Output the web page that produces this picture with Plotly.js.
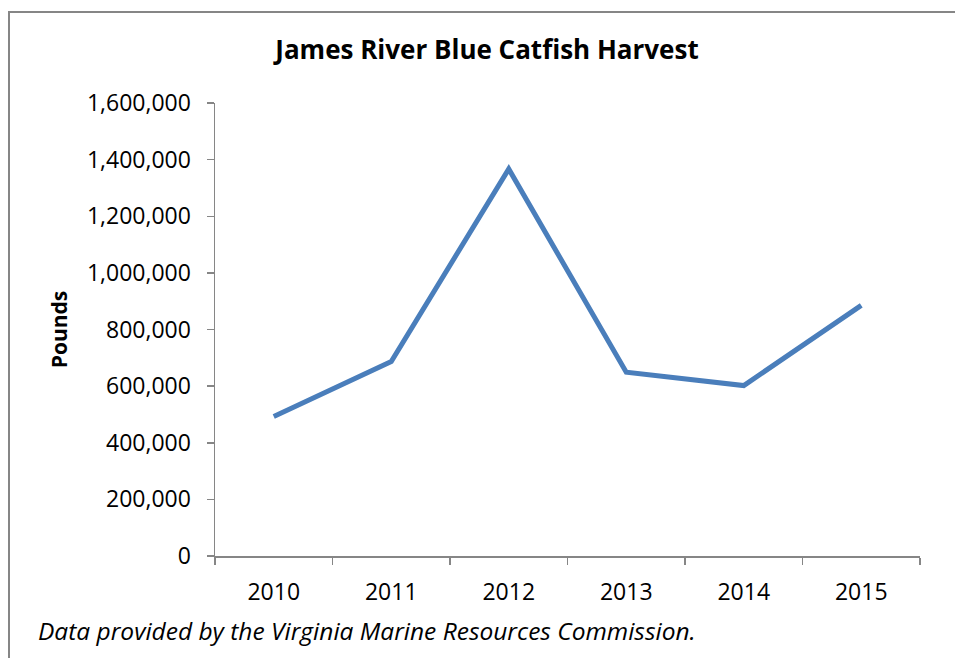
<!DOCTYPE html>
<html>
<head>
<meta charset="utf-8">
<script src="https://cdn.plot.ly/plotly-3.0.1.min.js"></script>
<style>
html,body{margin:0;padding:0;background:#fff;}
#chart{width:955px;height:658px;}
</style>
</head>
<body>
<div id="chart"></div>
<script>
const years = ["2010", "2011", "2012", "2013", "2014", "2015"];
const pounds = [493000, 687000, 1367000, 649000, 602000, 885000];
const yTicks = [0, 200000, 400000, 600000, 800000, 1000000, 1200000, 1400000, 1600000];

const FONT = "Open Sans, Liberation Sans, sans-serif";
const L = 215, R = 35, T = 103, B = 102;
const W = 955 - L - R, H = 658 - T - B;
const px = x => (x - L) / W;
const py = y => (658 - B - y) / H;

const trace = {
  x: years,
  y: pounds,
  type: "scatter",
  mode: "lines",
  line: {color: "#4a7ebb", width: 5},
  hoverinfo: "x+y"
};

const layout = {
  width: 955,
  height: 658,
  margin: {l: L, r: R, t: T, b: B},
  paper_bgcolor: "#ffffff",
  plot_bgcolor: "#ffffff",
  showlegend: false,
  font: {family: FONT, color: "#000000", size: 24},
  title: {
    text: "<b>James River Blue Catfish Harvest</b>",
    font: {family: FONT, size: 26, color: "#000000"},
    x: px(487), xref: "paper", xanchor: "center",
    y: 1 - 50 / 658, yref: "container", yanchor: "middle"
  },
  xaxis: {
    type: "category",
    range: [-0.5, 5.5],
    showline: true,
    linecolor: "#868686",
    linewidth: 1.5,
    showgrid: false,
    zeroline: false,
    ticks: "outside",
    tickson: "boundaries",
    ticklen: 7,
    tickcolor: "#868686",
    tickwidth: 1.5,
    ticklabelstandoff: 15,
    tickfont: {family: FONT, size: 23, color: "#000000"}
  },
  yaxis: {
    range: [0, 1600000],
    tickmode: "array",
    tickvals: yTicks,
    tickformat: ",d",
    showline: true,
    linecolor: "#868686",
    linewidth: 1.5,
    showgrid: false,
    zeroline: false,
    ticks: "outside",
    ticklen: 7,
    tickcolor: "#868686",
    tickwidth: 1.5,
    ticklabelstandoff: 11,
    tickfont: {family: FONT, size: 23, color: "#000000"},
    title: {
      text: "<b>Pounds</b>",
      font: {family: FONT, size: 21, color: "#000000"},
      standoff: 13
    }
  },
  annotations: [
    {
      text: "<i>Data provided by the Virginia Marine Resources Commission.</i>",
      xref: "paper", yref: "paper",
      x: px(36), y: py(630),
      xanchor: "left", yanchor: "middle",
      showarrow: false,
      font: {family: FONT, size: 24.5, color: "#000000"}
    }
  ],
  shapes: [
    {
      type: "rect",
      xref: "paper", yref: "paper",
      x0: px(9), x1: px(1000),
      y0: py(700), y1: py(12),
      line: {color: "#868686", width: 2},
      fillcolor: "rgba(0,0,0,0)",
      layer: "below"
    }
  ]
};

Plotly.newPlot("chart", [trace], layout, {displayModeBar: false, staticPlot: true});
</script>
</body>
</html>
